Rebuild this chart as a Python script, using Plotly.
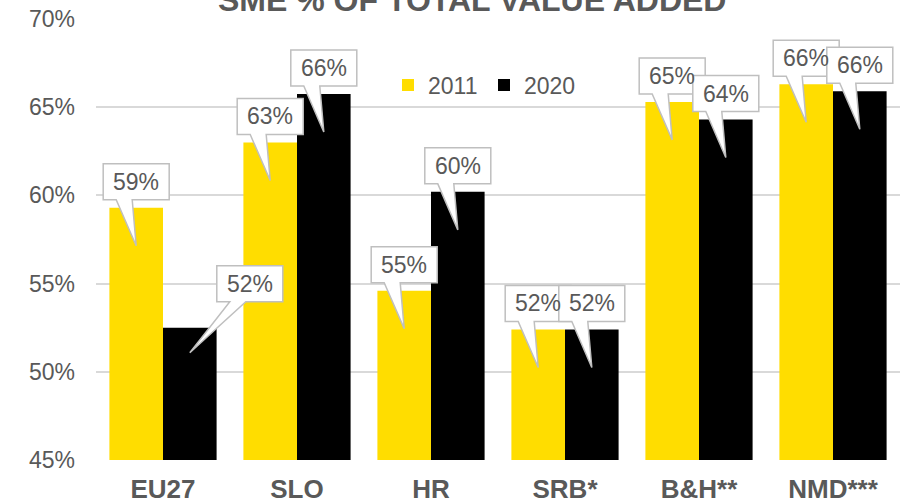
import plotly.graph_objects as go

categories = ["EU27", "SLO", "HR", "SRB*", "B&H**", "NMD***"]
values_2011 = [59.3, 63.0, 54.6, 52.4, 65.3, 66.3]
values_2020 = [52.5, 65.75, 60.2, 52.4, 64.3, 65.9]
series_names = ["2011", "2020"]
y_ticks = [45, 50, 55, 60, 65, 70]
y_tick_labels = ["45%", "50%", "55%", "60%", "65%", "70%"]
title_text = "SME % OF TOTAL VALUE ADDED"

# label callout placement (pixel offsets of box centre, tip) - styling only
label_box_2011 = [(0, 26)] * 6
label_box_2020 = [(60, 44), (0, 26), (0, 26), (0, 26), (0, 26), (0, 26)]
label_tip_2011 = [-38] * 6
label_tip_2020 = [-25, -38, -38, -38, -38, -38]

YELLOW = "#FFDD00"
BLACK = "#000000"
GRAY = "#595959"
GRID = "#D9D9D9"
BORDER = "#BFBFBF"
SANS = "Liberation Sans, Arial, sans-serif"

fig = go.Figure()
fig.add_trace(go.Bar(x=categories, y=values_2011, name=series_names[0],
                     marker=dict(color=YELLOW, line=dict(width=0))))
fig.add_trace(go.Bar(x=categories, y=values_2020, name=series_names[1],
                     marker=dict(color=BLACK, line=dict(width=0))))

BARGAP = 0.2
half = (1 - BARGAP) / 4  # centre offset of each of two bars in category units

W, H = 33, 18
shapes = []
annotations = []


def callout(xa, ya, cx, cy, tip, text):
    path = (f"M{cx-W},{cy+H} L{cx+W},{cy+H} L{cx+W},{cy-H} L{cx-4},{cy-H} "
            f"L0,{tip} L{cx-20},{cy-H} L{cx-W},{cy-H} Z")
    shapes.append(dict(type="path", xref="x", yref="y", xsizemode="pixel",
                       ysizemode="pixel", xanchor=xa, yanchor=ya, path=path,
                       fillcolor="white", line=dict(color=BORDER, width=1.5),
                       layer="above"))
    annotations.append(dict(x=xa, y=ya, xref="x", yref="y", xshift=cx, yshift=cy,
                            text=text, showarrow=False,
                            font=dict(family=SANS, size=23, color=GRAY)))


for i, v in enumerate(values_2011):
    cx, cy = label_box_2011[i]
    callout(i - half, v, cx, cy, label_tip_2011[i], f"{round(v)}%")
for i, v in enumerate(values_2020):
    cx, cy = label_box_2020[i]
    callout(i + half, v, cx, cy, label_tip_2020[i], f"{round(v)}%")

# chart title (partly cut at the top edge, as in the reference)
annotations.append(dict(text=title_text, xref="paper", yref="paper",
                        x=(471.5 - 96) / 804, y=1 + 19 / 441,
                        xanchor="center", yanchor="middle", showarrow=False,
                        font=dict(family=SANS, size=32, color=GRAY, weight="bold")))

fig.update_layout(
    width=905, height=504,
    margin=dict(l=96, r=5, t=19, b=44, autoexpand=False),
    paper_bgcolor="white", plot_bgcolor="white",
    barmode="group", bargap=BARGAP, bargroupgap=0,
    showlegend=True,
    legend=dict(orientation="h", xref="paper", yref="paper",
                x=(388 - 96) / 804, xanchor="left", y=(460 - 85) / 441, yanchor="middle",
                entrywidth=51, entrywidthmode="pixels",
                font=dict(family=SANS, size=23, color=GRAY),
                bgcolor="rgba(0,0,0,0)", itemclick=False),
    xaxis=dict(type="category", showgrid=False, showline=False, zeroline=False,
               ticks="", tickfont=dict(family=SANS, size=26, color=GRAY, weight="bold"),
               ticklabelstandoff=11, automargin=False),
    yaxis=dict(range=[45, 70], tickvals=y_ticks, ticktext=y_tick_labels, showgrid=True,
               gridcolor=GRID, gridwidth=2, showline=False, zeroline=False, ticks="",
               tickfont=dict(family=SANS, size=23, color=GRAY),
               ticklabelstandoff=20, automargin=False),
    shapes=shapes, annotations=annotations,
)

fig.write_html("out.html", config={"displayModeBar": False},
               post_script="document.body.style.margin='0';document.body.style.overflow='hidden';")
